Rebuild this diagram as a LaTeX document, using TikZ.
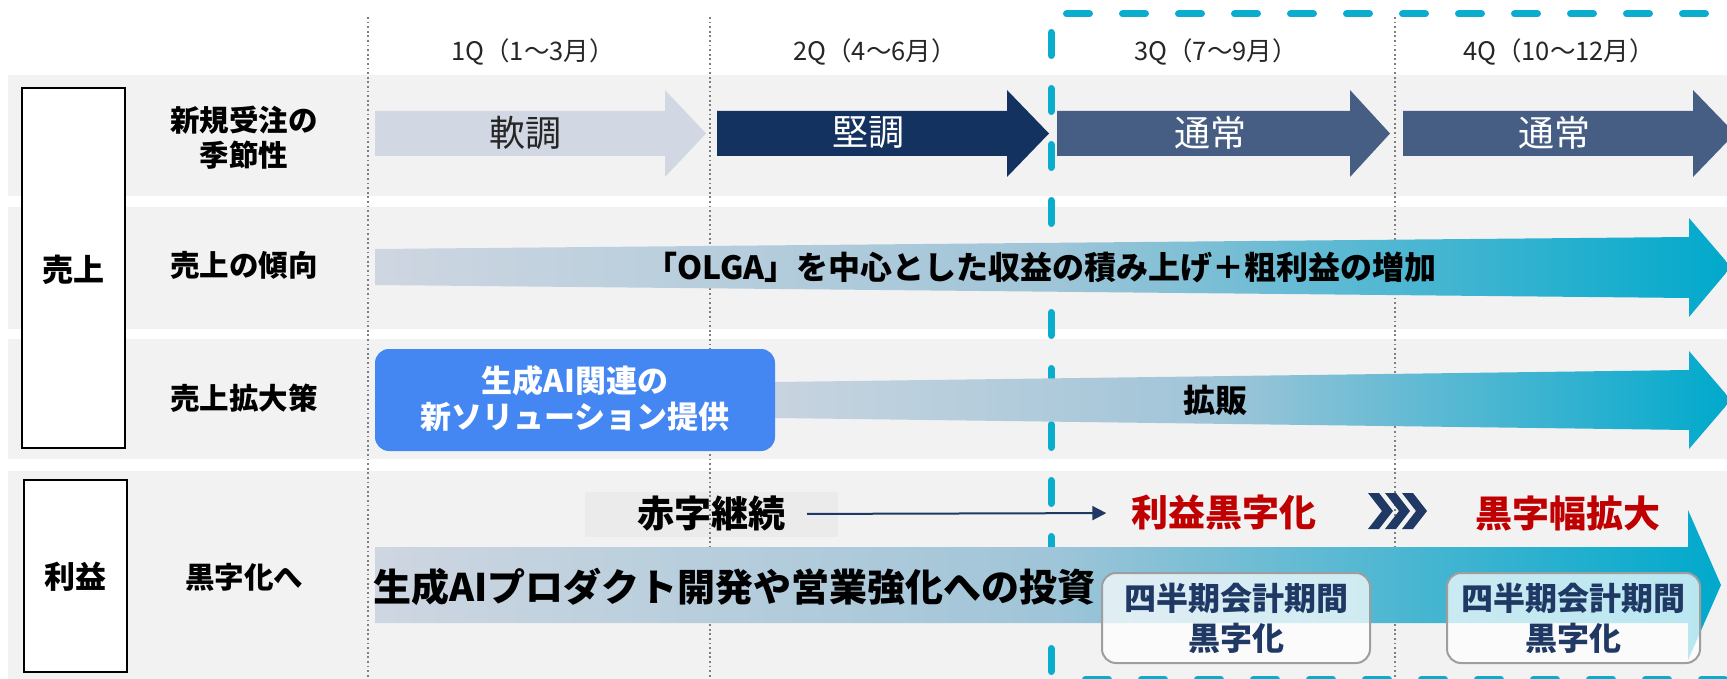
\documentclass[tikz,border=0pt]{standalone}
\usepackage{fontspec}
\setmainfont{Noto Sans CJK JP}
\usetikzlibrary{arrows.meta}
\definecolor{bandgray}{HTML}{F2F2F2}
\definecolor{softarrow}{HTML}{D1D8E3}
\definecolor{firmarrow}{HTML}{14325F}
\definecolor{normarrow}{HTML}{465E83}
\definecolor{gradL}{HTML}{CED6E1}
\definecolor{gradM}{HTML}{A0C5D8}
\definecolor{gradR}{HTML}{00A9CC}
\definecolor{aiblue}{HTML}{4587F2}
\definecolor{profitred}{HTML}{C00000}
\definecolor{navytext}{HTML}{1F3864}
\definecolor{dashcyan}{HTML}{0BADCF}
\definecolor{dotgray}{HTML}{7F7F7F}
\definecolor{deficitbox}{HTML}{EBEBEB}
\tikzset{
  bandfill/.style={fill=bandgray},
  dotline/.style={draw=dotgray, line width=1.8pt, dash pattern=on 1.8pt off 2.8pt},
  cyandash/.style={draw=dashcyan, line width=7pt, line cap=round, dash pattern=on 23pt off 33pt},
  qlabel/.style={inner sep=0pt, font=\fontsize{25.5}{30}\selectfont, text=black!85},
  rowlabel/.style={inner sep=0pt, align=center, font=\fontsize{29.5}{35}\selectfont\bfseries},
  catbox/.style={draw=black, line width=2pt, fill=white},
  catlabel/.style={inner sep=0pt, font=\fontsize{31}{36}\selectfont\bfseries},
  arrowtext/.style={inner sep=0pt, font=\fontsize{36}{40}\selectfont},
  bandtext/.style={inner sep=0pt, font=\fontsize{32}{36}\selectfont\bfseries},
  aitext/.style={inner sep=0pt, align=center, text=white, font=\fontsize{31}{36}\selectfont\bfseries},
  bigtext/.style={inner sep=0pt, font=\fontsize{38}{42}\selectfont\bfseries},
  statustext/.style={inner sep=0pt, font=\fontsize{37}{40}\selectfont\bfseries},
  quarterbox/.style={draw=black!38, line width=2pt, rounded corners=14pt, fill=white,
    fill opacity=0.72, text opacity=1, text=navytext, align=center, inner sep=0pt,
    font=\fontsize{32}{40}\selectfont\bfseries},
  gradarrow/.style={left color=gradL, right color=gradR, middle color=gradM},
}
\begin{document}
\begin{tikzpicture}[x=1pt,y=-1pt]
\useasboundingbox (0,0) rectangle (1727,679);
\clip (0,0) rectangle (1727,679);
% row bands
\fill[bandfill] (8,75) rectangle (1727,196);
\fill[bandfill] (8,207) rectangle (1727,329);
\fill[bandfill] (8,339) rectangle (1727,459);
\fill[bandfill] (8,471) rectangle (1727,679);
% deficit box background
\fill[deficitbox] (585,492) rectangle (838,537);
% quarter dividers
\draw[dotline] (368,17) -- (368,679);
\draw[dotline] (710,17) -- (710,679);
\draw[dotline] (1395,17) -- (1395,679);
% dashed frame (left & bottom)
\draw[cyandash] (1051,32.5) -- (1051,679);
\draw[cyandash] (1085.5,679) -- (1727,679);
% row 1 arrows
\fill[softarrow] (375,111) -- (665,111) -- (665,90) -- (706,133.5) -- (665,177) -- (665,156) -- (375,156) -- cycle;
\fill[firmarrow] (717,111) -- (1007,111) -- (1007,90) -- (1049,133.5) -- (1007,177) -- (1007,156) -- (717,156) -- cycle;
\fill[normarrow] (1057,111) -- (1350,111) -- (1350,90) -- (1390,133.5) -- (1350,177) -- (1350,156) -- (1057,156) -- cycle;
\fill[normarrow] (1403,111) -- (1693,111) -- (1693,90) -- (1735,133.5) -- (1693,177) -- (1693,156) -- (1403,156) -- cycle;
% row 2 arrow
\shade[gradarrow] (375,249) -- (1689,237) -- (1689,218) -- (1731,267) -- (1689,317) -- (1689,298) -- (375,285) -- cycle;
% row 3 arrow
\shade[gradarrow] (700,383) -- (1689,370) -- (1689,351) -- (1731,400) -- (1689,449) -- (1689,430) -- (700,417) -- cycle;
% row 4 arrow
\shade[gradarrow] (375,547) -- (1688,547) -- (1688,510) -- (1721,585) -- (1688,660) -- (1688,623) -- (375,623) -- cycle;
% AI solution box
\node[fill=aiblue, rounded corners=14pt, minimum width=400pt, minimum height=102pt, inner sep=0pt] (aibox) at (575,400) {};
\node[aitext] (aitxt) at (575,398) {生成AI関連の\\新ソリューション提供};
% category boxes
\node[catbox, minimum width=103pt, minimum height=360pt, inner sep=0pt] (salesbox) at (73.5,268) {};
\node[catbox, minimum width=103pt, minimum height=192pt, inner sep=0pt] (profitbox) at (75.5,576) {};
\node[catlabel] (salestxt) at (73.5,270) {売上};
\node[catlabel] (profittxt) at (75.5,577) {利益};
% row labels
\node[rowlabel] (lbl1) at (244,137.5) {新規受注の\\季節性};
\node[rowlabel] (lbl2) at (244,265) {売上の傾向};
\node[rowlabel] (lbl3) at (244,398) {売上拡大策};
\node[rowlabel] (lbl4) at (244,577) {黒字化へ};
% quarter labels
\node[qlabel] (q1) at (533,52) {1Q（1～3月）};
\node[qlabel] (q2) at (875,52) {2Q（4～6月）};
\node[qlabel] (q3) at (1216,52) {3Q（7～9月）};
\node[qlabel] (q4) at (1559,52) {4Q（10～12月）};
% row 1 texts
\node[arrowtext, text=black!85] (soft) at (525,133) {軟調};
\node[arrowtext, text=white] (firm) at (868,133) {堅調};
\node[arrowtext, text=white] (norm3) at (1210,133) {通常};
\node[arrowtext, text=white] (norm4) at (1554,133) {通常};
% row 2 / 3 texts
\node[bandtext] (trend) at (1041,267) {「OLGA」を中心とした収益の積み上げ＋粗利益の増加};
\node[bandtext] (expand) at (1215,400) {拡販};
% row 4 texts
\node[statustext] (deficit) at (711,514) {赤字継続};
\node[statustext, text=profitred] (turn) at (1224,513) {利益黒字化};
\node[statustext, text=profitred] (widen) at (1568,513) {黒字幅拡大};
\draw[navytext, line width=2pt, shorten <=22pt, shorten >=25pt, -{Triangle[length=14pt,width=14pt]}] (deficit.east) -- (turn.west);
\foreach \cx in {1368,1385,1402}{
  \fill[navytext] (\cx,493) -- ({\cx+11},493) -- ({\cx+25},511) -- ({\cx+11},529) -- (\cx,529) -- ({\cx+14},511) -- cycle;
}
\node[bigtext, anchor=west] (invest) at (373,587) {生成AIプロダクト開発や営業強化への投資};
% quarterly boxes
\node[quarterbox, minimum width=268pt, minimum height=90pt] (qb3) at (1236,618) {四半期会計期間\\黒字化};
\node[quarterbox, minimum width=253pt, minimum height=90pt] (qb4) at (1573.5,618) {四半期会計期間\\黒字化};
% dashed frame top
\draw[cyandash] (1066.5,14) -- (1727,14);
\end{tikzpicture}
\end{document}
